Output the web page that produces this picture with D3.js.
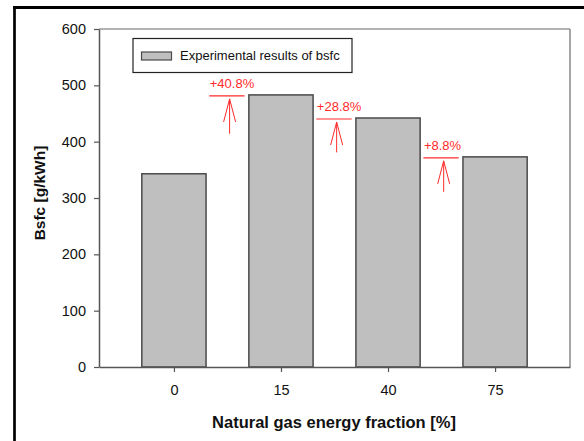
<!DOCTYPE html>
<html><head><meta charset="utf-8">
<script src="https://cdn.jsdelivr.net/npm/d3@7"></script>
<style>body{margin:0;background:#fff}svg{display:block}text{font-family:"Liberation Sans",Arial,sans-serif}</style>
</head><body><svg id="c" width="584" height="441"></svg>
<script>
const categories = ["0", "15", "40", "75"];
const bsfcValues = [343, 483, 442, 373];
const yTicks = [0, 100, 200, 300, 400, 500, 600];
const annoLabels = ["+40.8%", "+28.8%", "+8.8%"];
const annoLevels = [483, 442, 373];
const annoArrowBase = [414, 381, 311];
const legendLabel = "Experimental results of bsfc";
const xTitle = "Natural gas energy fraction [%]";
const yTitle = "Bsfc [g/kWh]";

const svg = d3.select("#c");
const L = 99, R = 570, T = 29, B = 367;
const x = d3.scaleLinear().domain([0.3, 4.7]).range([L, R]);
const y = d3.scaleLinear().domain([0, 600]).range([B, T]);
const barW = 0.6;
const red = "#ff2a2a";

// outer black frame
svg.append("line").attr("x1", 14.5).attr("x2", 14.5).attr("y1", 6).attr("y2", 441).attr("stroke", "#000").attr("stroke-width", 2.7);
svg.append("line").attr("x1", 13).attr("x2", 584).attr("y1", 7.5).attr("y2", 7.5).attr("stroke", "#000").attr("stroke-width", 3);

// frame top/right
svg.append("line").attr("x1", L).attr("x2", R).attr("y1", T).attr("y2", T).attr("stroke", "#999").attr("stroke-width", 1.5);
svg.append("line").attr("x1", R).attr("x2", R).attr("y1", T).attr("y2", B).attr("stroke", "#888").attr("stroke-width", 1.5);

// bars
svg.selectAll("rect.bar").data(bsfcValues).enter().append("rect")
  .attr("class", "bar")
  .attr("x", (d, i) => x(i + 1 - barW / 2))
  .attr("width", (d, i) => x(i + 1 + barW / 2) - x(i + 1 - barW / 2))
  .attr("y", d => y(d))
  .attr("height", d => y(0) - y(d))
  .attr("fill", "#bfbfbf").attr("stroke", "#4a4a4a").attr("stroke-width", 1.5);

// axes
const yAxis = svg.append("g").attr("transform", `translate(${L},0)`)
  .call(d3.axisLeft(y).tickValues(yTicks).tickSize(5).tickSizeOuter(0).tickPadding(8));
const xAxis = svg.append("g").attr("transform", `translate(0,${B})`)
  .call(d3.axisBottom(x).tickValues([1, 2, 3, 4]).tickFormat((d, i) => categories[i]).tickSize(5).tickSizeOuter(0).tickPadding(13));
[yAxis, xAxis].forEach(g => {
  g.select(".domain").attr("stroke", "#555").attr("stroke-width", 1.5);
  g.selectAll(".tick line").attr("stroke", "#555").attr("stroke-width", 1.2);
  g.selectAll(".tick text").attr("fill", "#111").style("font-size", "14.5px").style("font-family", "'Liberation Sans',Arial,sans-serif");
});

// titles
svg.append("text").attr("x", 334).attr("y", 428).attr("text-anchor", "middle")
  .style("font-size", "16.5px").style("font-weight", "bold").attr("fill", "#111").text(xTitle);
svg.append("text").attr("transform", "translate(45,193) rotate(-90)").attr("text-anchor", "middle")
  .style("font-size", "15.5px").style("font-weight", "bold").attr("fill", "#111").text(yTitle);

// legend
const lg = svg.append("g");
lg.append("rect").attr("x", 133).attr("y", 38.5).attr("width", 219).attr("height", 34)
  .attr("fill", "#fff").attr("stroke", "#222").attr("stroke-width", 1.2);
lg.append("rect").attr("x", 141.5).attr("y", 52).attr("width", 30).attr("height", 8)
  .attr("fill", "#bfbfbf").attr("stroke", "#4a4a4a").attr("stroke-width", 1.2);
lg.append("text").attr("x", 180).attr("y", 60).style("font-size", "13px").attr("fill", "#111").text(legendLabel);

// annotations
annoLabels.forEach((lab, k) => {
  const i = k + 1;
  const g = svg.append("g").attr("stroke", red).attr("fill", "none");
  const ly = y(annoLevels[k]) + 1;
  g.append("line").attr("x1", x(i + 0.33)).attr("x2", x(i + 0.66)).attr("y1", ly).attr("y2", ly).attr("stroke-width", 1.2);
  const ax = x(i + 0.52);
  const tip = ly + 3;
  g.append("line").attr("x1", ax).attr("x2", ax).attr("y1", tip).attr("y2", y(annoArrowBase[k])).attr("stroke-width", 1);
  g.append("path").attr("d", `M${ax - 6},${tip + 23}L${ax},${tip}L${ax + 6},${tip + 23}`).attr("stroke-width", 1);
  svg.append("text").attr("x", x(i + 0.335)).attr("y", ly - 8).attr("fill", red)
    .style("font-size", "13px").text(lab);
});
</script></body></html>
